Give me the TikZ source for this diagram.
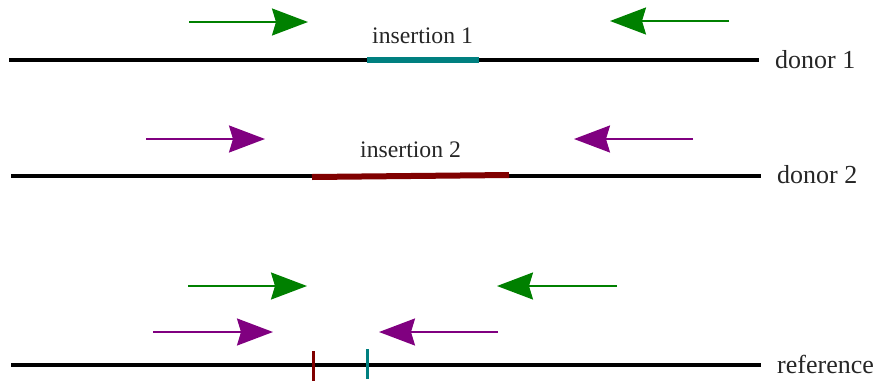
\documentclass[tikz,border=0pt]{standalone}
\usepackage{fontspec}
\setmainfont{Liberation Serif}
\usetikzlibrary{arrows.meta}
\definecolor{dgreen}{RGB}{0,128,0}
\definecolor{dpurple}{RGB}{128,0,128}
\definecolor{dteal}{RGB}{0,128,128}
\definecolor{dmaroon}{RGB}{128,0,0}
\tikzset{
  dna/.style={line width=3.5pt, black},
  ins/.style={line width=6pt},
  tick/.style={line width=3pt},
  primer/.style={line width=2pt, -{Stealth[length=36pt, width=27pt, inset=4pt]}},
  lbl/.style={anchor=base west, inner sep=0pt, font=\fontsize{26}{30}\selectfont, text=black!85},
  inslbl/.style={anchor=base west, inner sep=0pt, font=\fontsize{23.7}{27}\selectfont, text=black!85},
}
\begin{document}
\begin{tikzpicture}[x=1pt, y=-1pt]
\useasboundingbox (0,0) rectangle (876,381);
% donor 1
\coordinate (d1a) at (9,60); \coordinate (d1b) at (759,60);
\draw[dna] (d1a) -- (d1b);
\coordinate (i1a) at (367,60); \coordinate (i1b) at (479,60);
\draw[ins, dteal] (i1a) -- (i1b);
\node[inslbl] (i1l) at (372,43) {insertion 1};
\node[lbl] (d1l) at (775,68) {donor 1};
% donor 2
\coordinate (d2a) at (11,176); \coordinate (d2b) at (761,176);
\draw[dna] (d2a) -- (d2b);
\coordinate (i2a) at (312,177); \coordinate (i2b) at (509,175);
\draw[ins, dmaroon] (i2a) -- (i2b);
\node[inslbl] (i2l) at (360,157) {insertion 2};
\node[lbl] (d2l) at (777,183) {donor 2};
% reference
\coordinate (ra) at (11,365); \coordinate (rb) at (761,365);
\draw[dna] (ra) -- (rb);
\coordinate (t1a) at (313,351); \coordinate (t1b) at (313,381);
\draw[tick, dmaroon] (t1a) -- (t1b);
\coordinate (t2a) at (367,349); \coordinate (t2b) at (367,379);
\draw[tick, dteal] (t2a) -- (t2b);
\node[lbl] (rl) at (777,373) {reference};
% primers
\coordinate (p1a) at (189,22); \coordinate (p1b) at (308,22);
\draw[primer, dgreen] (p1a) -- (p1b);
\coordinate (p2a) at (729,21); \coordinate (p2b) at (610,21);
\draw[primer, dgreen] (p2a) -- (p2b);
\coordinate (p3a) at (146,139); \coordinate (p3b) at (265,139);
\draw[primer, dpurple] (p3a) -- (p3b);
\coordinate (p4a) at (693,139); \coordinate (p4b) at (574,139);
\draw[primer, dpurple] (p4a) -- (p4b);
\coordinate (p5a) at (188,286); \coordinate (p5b) at (307,286);
\draw[primer, dgreen] (p5a) -- (p5b);
\coordinate (p6a) at (617,286); \coordinate (p6b) at (497,286);
\draw[primer, dgreen] (p6a) -- (p6b);
\coordinate (p7a) at (153,332); \coordinate (p7b) at (273,332);
\draw[primer, dpurple] (p7a) -- (p7b);
\coordinate (p8a) at (498,332); \coordinate (p8b) at (379,332);
\draw[primer, dpurple] (p8a) -- (p8b);
\end{tikzpicture}
\end{document}
